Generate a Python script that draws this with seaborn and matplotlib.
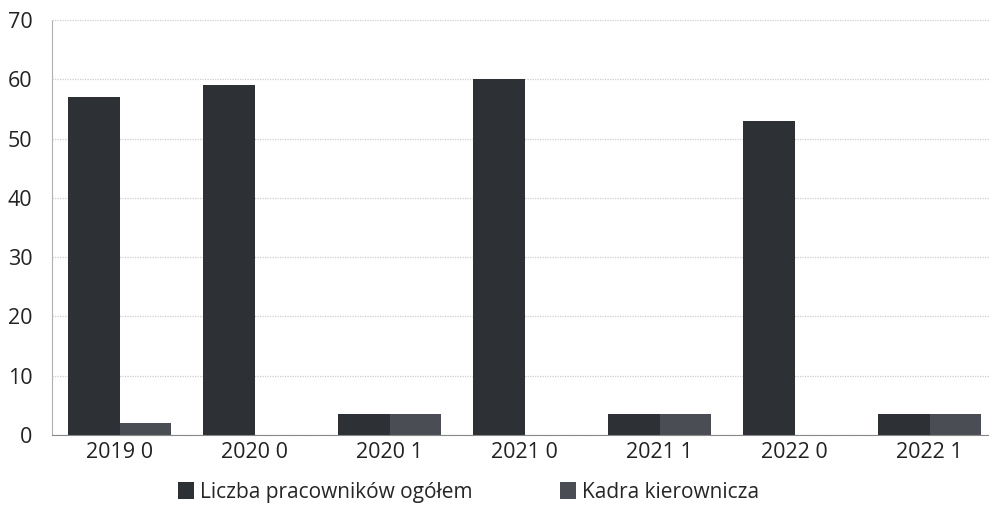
import matplotlib
matplotlib.use("Agg")
import matplotlib.pyplot as plt
import pandas as pd
import seaborn as sns

categories = ["2019 0", "2020 0", "2020 1", "2021 0", "2021 1", "2022 0", "2022 1"]
ogolem = [57, 59, 3.5, 60, 3.5, 53, 3.5]
kadra = [2, 0, 3.5, 0, 3.5, 0, 3.5]
series = ["Liczba pracowników ogółem", "Kadra kierownicza"]
colors = ["#2d3035", "#4a4d53"]

df = pd.DataFrame({
    "kategoria": categories * 2,
    "wartosc": ogolem + kadra,
    "seria": [series[0]] * len(categories) + [series[1]] * len(categories),
})

sns.set_style("white")
plt.rcParams["font.family"] = ["Open Sans", "DejaVu Sans"]

fig = plt.figure(figsize=(9.89, 5.13), dpi=100)
ax = fig.add_axes([52 / 989, 78 / 513, 937 / 989, 415 / 513])

sns.barplot(data=df, x="kategoria", y="wartosc", hue="seria", order=categories,
            hue_order=series, palette=colors, width=0.76, saturation=1,
            linewidth=0, ax=ax, legend=True)

ax.set_xlim(-0.5, 6.44)
ax.set_ylim(0, 70)
ax.set_yticks(range(0, 71, 10))
ax.set_xlabel("")
ax.set_ylabel("")
ax.yaxis.grid(True, color="#cfcfcf", linestyle=(0, (1, 1)), linewidth=0.9)
ax.set_axisbelow(True)
for s in ["top", "right"]:
    ax.spines[s].set_visible(False)
ax.spines["left"].set_color("#b0b0b0")
ax.spines["left"].set_linestyle((0, (1, 1)))
ax.spines["bottom"].set_color("#888888")
ax.spines["bottom"].set_linestyle((0, (1, 1)))
ax.tick_params(axis="both", length=0, labelsize=15.5, labelcolor="#222222")
ax.tick_params(axis="y", pad=14)
ax.tick_params(axis="x", pad=5)

handles, labels = ax.get_legend_handles_labels()
ax.get_legend().remove()
fig.legend(handles, labels, loc="center", bbox_to_anchor=(0.474, 0.04), ncol=2,
           frameon=False, fontsize=15, handlelength=0.75, handleheight=0.9,
           handletextpad=0.3, columnspacing=4.2)

fig.savefig("out.png", dpi=100)
